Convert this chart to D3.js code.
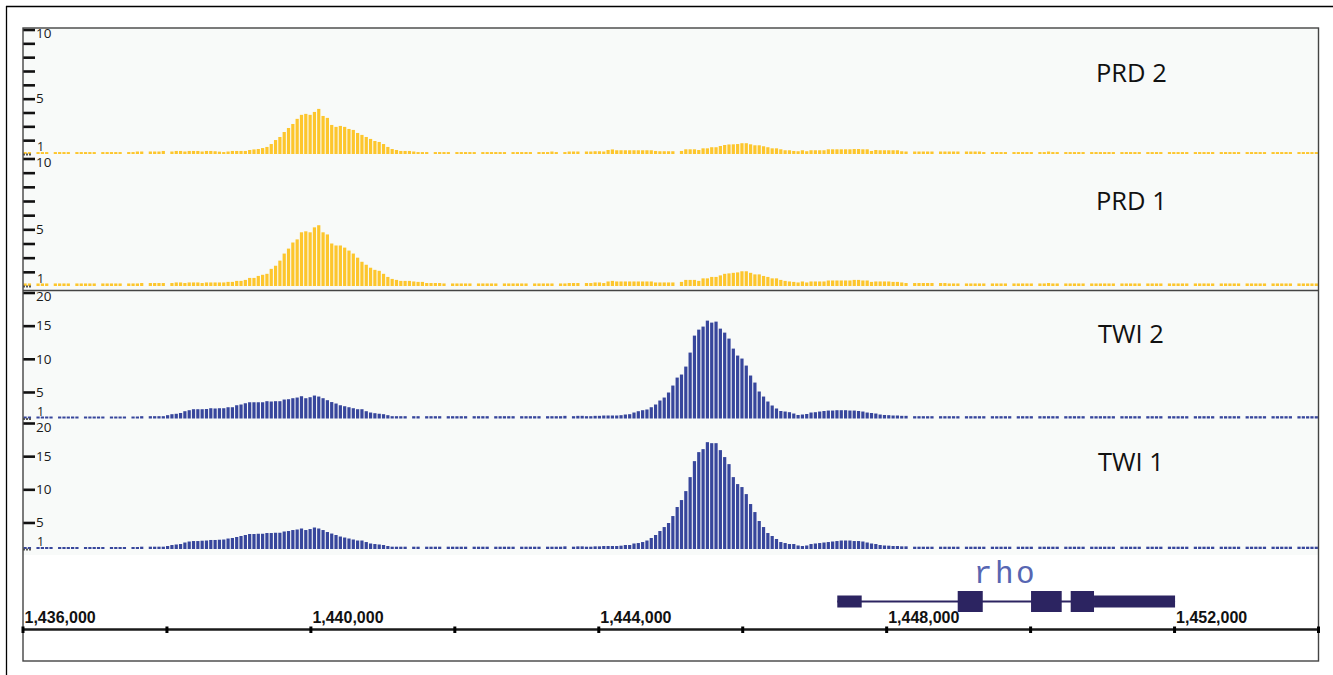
<!DOCTYPE html>
<html><head><meta charset="utf-8">
<script src="https://cdn.jsdelivr.net/npm/d3@7"></script>
<style>body{margin:0;background:#fff}svg{display:block}</style>
</head><body><svg id="c" width="1333" height="675"></svg>
<script>
const START = 1436000, END = 1454000, BIN = 60;
const trackNames = ["PRD 2", "PRD 1", "TWI 2", "TWI 1"];

const prd2 = [
1.14,1.14,1.00,1.14,1.14,1.14,1.00,1.14,1.14,1.14,
1.14,1.00,1.14,1.14,1.14,1.14,1.14,1.00,1.14,1.14,
1.14,1.14,1.14,1.00,1.14,1.14,1.18,1.18,1.00,1.18,
1.18,1.18,1.22,1.00,1.18,1.22,1.22,1.18,1.22,1.22,
1.22,1.18,1.22,1.22,1.20,1.17,1.14,1.18,1.22,1.22,
1.22,1.22,1.29,1.33,1.36,1.43,1.51,1.72,2.01,2.23,
2.59,2.88,3.17,3.54,3.83,3.90,3.83,4.04,4.26,3.75,
3.61,3.10,2.96,3.03,2.96,2.81,2.74,2.52,2.38,2.23,
2.09,1.94,1.87,1.72,1.51,1.36,1.29,1.22,1.22,1.22,
1.18,1.14,1.14,1.14,1.00,1.14,1.14,1.14,1.14,1.00,
1.14,1.14,1.14,1.14,1.14,1.00,1.14,1.14,1.14,1.14,
1.14,1.14,1.00,1.14,1.14,1.14,1.14,1.14,1.00,1.14,
1.14,1.14,1.18,1.14,1.00,1.14,1.18,1.18,1.18,1.00,
1.18,1.18,1.20,1.20,1.18,1.29,1.33,1.27,1.27,1.27,
1.27,1.27,1.27,1.27,1.27,1.27,1.22,1.20,1.20,1.20,
1.20,1.00,1.22,1.34,1.34,1.34,1.29,1.41,1.41,1.49,
1.49,1.58,1.65,1.69,1.70,1.72,1.78,1.78,1.70,1.63,
1.63,1.56,1.49,1.41,1.41,1.34,1.27,1.27,1.22,1.20,
1.27,1.20,1.27,1.27,1.27,1.27,1.34,1.34,1.34,1.34,
1.34,1.34,1.36,1.36,1.34,1.34,1.22,1.29,1.27,1.27,
1.27,1.27,1.27,1.20,1.18,1.00,1.18,1.18,1.18,1.18,
1.18,1.00,1.18,1.18,1.18,1.18,1.18,1.00,1.18,1.18,
1.18,1.18,1.14,1.00,1.14,1.14,1.14,1.14,1.00,1.14,
1.14,1.14,1.14,1.14,1.00,1.14,1.14,1.18,1.14,1.14,
1.00,1.14,1.14,1.14,1.14,1.14,1.00,1.14,1.14,1.14,
1.14,1.14,1.14,1.00,1.14,1.14,1.14,1.14,1.14,1.00,
1.14,1.14,1.14,1.14,1.00,1.14,1.14,1.14,1.14,1.14,
1.00,1.14,1.14,1.14,1.14,1.14,1.00,1.14,1.14,1.14,
1.14,1.14,1.00,1.14,1.14,1.14,1.14,1.14,1.00,1.14,
1.14,1.14,1.14,1.14,1.00,1.14,1.14,1.14,1.14,1.14];

const prd1 = [
1.18,1.18,1.00,1.18,1.18,1.18,1.00,1.18,1.18,1.18,
1.18,1.00,1.18,1.18,1.18,1.18,1.18,1.00,1.18,1.18,
1.18,1.18,1.18,1.00,1.18,1.18,1.18,1.21,1.00,1.21,
1.21,1.21,1.21,1.00,1.21,1.25,1.25,1.21,1.25,1.25,
1.25,1.21,1.25,1.25,1.25,1.25,1.25,1.29,1.29,1.36,
1.36,1.43,1.57,1.57,1.71,1.79,1.86,2.21,2.43,2.79,
3.29,3.64,4.07,4.29,4.79,4.86,4.79,5.14,5.29,4.79,
4.64,4.00,3.86,3.86,3.71,3.50,3.29,3.00,2.71,2.50,
2.29,2.14,2.07,1.86,1.64,1.50,1.43,1.36,1.36,1.36,
1.32,1.29,1.29,1.21,1.21,1.21,1.21,1.18,1.00,1.18,
1.18,1.18,1.18,1.18,1.00,1.18,1.18,1.18,1.18,1.18,
1.00,1.18,1.18,1.18,1.18,1.18,1.18,1.00,1.18,1.18,
1.18,1.18,1.18,1.00,1.18,1.18,1.21,1.21,1.21,1.00,
1.21,1.21,1.25,1.25,1.21,1.32,1.36,1.32,1.32,1.32,
1.32,1.32,1.32,1.32,1.32,1.32,1.25,1.25,1.25,1.25,
1.25,1.00,1.29,1.43,1.43,1.43,1.36,1.54,1.54,1.64,
1.64,1.75,1.86,1.89,1.93,1.96,2.04,2.04,1.93,1.82,
1.82,1.71,1.64,1.54,1.54,1.43,1.36,1.32,1.29,1.25,
1.32,1.25,1.32,1.32,1.32,1.32,1.39,1.39,1.39,1.39,
1.39,1.39,1.43,1.43,1.39,1.39,1.29,1.32,1.32,1.32,
1.32,1.29,1.29,1.25,1.21,1.00,1.21,1.21,1.21,1.21,
1.21,1.00,1.21,1.21,1.18,1.18,1.18,1.00,1.18,1.18,
1.18,1.18,1.18,1.00,1.18,1.18,1.18,1.18,1.00,1.18,
1.18,1.18,1.18,1.18,1.00,1.18,1.18,1.21,1.18,1.18,
1.00,1.18,1.18,1.18,1.18,1.18,1.00,1.18,1.18,1.18,
1.18,1.18,1.18,1.00,1.18,1.18,1.18,1.18,1.18,1.00,
1.18,1.18,1.18,1.18,1.00,1.18,1.18,1.18,1.18,1.18,
1.00,1.18,1.18,1.18,1.18,1.18,1.00,1.18,1.18,1.18,
1.18,1.18,1.00,1.18,1.18,1.18,1.18,1.18,1.00,1.18,
1.18,1.18,1.18,1.18,1.00,1.18,1.18,1.18,1.18,1.18];

const twi2 = [
1.30,1.30,1.00,1.30,1.30,1.30,1.30,1.00,1.30,1.30,
1.30,1.30,1.30,1.00,1.30,1.30,1.30,1.30,1.30,1.00,
1.30,1.30,1.30,1.30,1.00,1.30,1.30,1.35,1.00,1.35,
1.35,1.35,1.35,1.50,1.65,1.71,1.83,2.10,2.25,2.40,
2.40,2.40,2.43,2.55,2.51,2.55,2.55,2.70,2.70,3.00,
3.11,3.30,3.45,3.45,3.45,3.45,3.61,3.56,3.61,3.61,
3.86,3.91,4.06,4.16,4.36,4.06,4.21,4.46,4.31,4.06,
3.76,3.48,3.26,3.00,2.85,2.70,2.55,2.40,2.40,2.10,
1.90,1.80,1.72,1.65,1.50,1.35,1.35,1.35,1.35,1.00,
1.35,1.35,1.00,1.35,1.35,1.35,1.35,1.00,1.35,1.35,
1.35,1.35,1.35,1.00,1.35,1.35,1.35,1.35,1.00,1.35,
1.35,1.35,1.35,1.35,1.00,1.35,1.35,1.35,1.35,1.35,
1.00,1.35,1.35,1.35,1.35,1.40,1.00,1.35,1.40,1.40,
1.35,1.35,1.40,1.40,1.45,1.45,1.45,1.45,1.50,1.60,
1.65,1.90,2.10,2.25,2.36,2.70,3.11,3.71,4.16,4.92,
5.97,7.17,7.63,8.83,10.94,13.50,14.40,14.86,15.76,15.46,
15.61,14.55,13.95,13.05,11.54,10.49,10.04,8.98,7.48,6.42,
5.07,4.31,3.56,2.96,2.51,2.13,2.05,1.95,1.75,1.53,
1.60,1.68,1.90,1.95,2.05,2.13,2.20,2.20,2.25,2.25,
2.25,2.20,2.20,2.13,2.05,1.90,1.83,1.75,1.60,1.53,
1.50,1.45,1.45,1.40,1.40,1.00,1.35,1.35,1.35,1.35,
1.35,1.00,1.35,1.35,1.35,1.35,1.35,1.00,1.35,1.35,
1.35,1.35,1.35,1.00,1.35,1.35,1.35,1.35,1.35,1.00,
1.35,1.35,1.35,1.35,1.00,1.35,1.35,1.35,1.35,1.35,
1.00,1.35,1.35,1.35,1.35,1.35,1.00,1.35,1.35,1.35,
1.35,1.35,1.35,1.00,1.35,1.35,1.35,1.35,1.35,1.00,
1.35,1.35,1.35,1.35,1.00,1.35,1.35,1.35,1.35,1.35,
1.00,1.35,1.35,1.35,1.35,1.35,1.00,1.35,1.35,1.35,
1.35,1.35,1.00,1.35,1.35,1.35,1.35,1.35,1.00,1.35,
1.35,1.35,1.35,1.35,1.00,1.35,1.35,1.35,1.35,1.35];

const twi1 = [
1.30,1.30,1.00,1.30,1.30,1.30,1.30,1.00,1.30,1.30,
1.30,1.30,1.30,1.00,1.30,1.30,1.30,1.30,1.30,1.00,
1.30,1.30,1.30,1.30,1.00,1.30,1.30,1.35,1.00,1.35,
1.35,1.35,1.35,1.45,1.60,1.68,1.75,1.98,2.13,2.20,
2.20,2.25,2.28,2.36,2.36,2.40,2.43,2.58,2.66,2.81,
2.96,3.11,3.26,3.26,3.30,3.30,3.41,3.41,3.45,3.45,
3.64,3.71,3.86,3.94,4.09,3.86,4.01,4.24,4.09,3.86,
3.56,3.33,3.11,2.88,2.73,2.58,2.43,2.28,2.28,2.05,
1.83,1.75,1.68,1.60,1.45,1.35,1.35,1.35,1.35,1.00,
1.35,1.35,1.00,1.35,1.35,1.35,1.35,1.00,1.35,1.35,
1.35,1.35,1.35,1.00,1.35,1.35,1.35,1.35,1.00,1.35,
1.35,1.35,1.35,1.35,1.00,1.35,1.35,1.35,1.35,1.35,
1.00,1.35,1.35,1.35,1.35,1.40,1.00,1.35,1.40,1.40,
1.35,1.35,1.40,1.40,1.45,1.45,1.45,1.45,1.50,1.60,
1.60,1.83,1.90,2.05,2.28,2.66,3.11,3.71,4.31,4.92,
5.97,7.33,8.38,9.73,11.84,14.25,15.61,16.06,17.11,16.96,
16.96,15.91,14.86,13.80,11.84,10.79,10.34,9.28,7.78,6.57,
5.22,4.31,3.41,2.96,2.51,2.05,1.90,1.75,1.75,1.53,
1.45,1.53,1.75,1.83,1.90,1.98,2.05,2.13,2.20,2.28,
2.28,2.28,2.20,2.20,2.13,1.98,1.83,1.75,1.60,1.53,
1.50,1.45,1.45,1.40,1.40,1.00,1.35,1.35,1.35,1.35,
1.35,1.00,1.35,1.35,1.35,1.35,1.35,1.00,1.35,1.35,
1.35,1.35,1.35,1.00,1.35,1.35,1.35,1.35,1.35,1.00,
1.35,1.35,1.35,1.35,1.00,1.35,1.35,1.35,1.35,1.35,
1.00,1.35,1.35,1.35,1.35,1.35,1.00,1.35,1.35,1.35,
1.35,1.35,1.35,1.00,1.35,1.35,1.35,1.35,1.35,1.00,
1.35,1.35,1.35,1.35,1.00,1.35,1.35,1.35,1.35,1.35,
1.00,1.35,1.35,1.35,1.35,1.35,1.00,1.35,1.35,1.35,
1.35,1.35,1.00,1.35,1.35,1.35,1.35,1.35,1.00,1.35,
1.35,1.35,1.35,1.35,1.00,1.35,1.35,1.35,1.35,1.35];

const prdTicks = [1,2,3,4,5,6,7,8,9,10];
const prdTickLabels = [10,5,1];
const twiTicks = [1,5,10,15,20];
const twiTickLabels = [20,15,10,5,1];
const posTicks = [1436000,1438000,1440000,1442000,1444000,1446000,1448000,1450000,1452000,1454000];
const posTickLabels = [1436000,1440000,1444000,1448000,1452000];

const geneName = "rho";
const exonStarts = [1447314,1448987,1450006,1450557,1450881];
const exonEnds   = [1447653,1449335,1450432,1450881,1452007];
const exonCoding = [false,true,true,true,false];

// ---------- layout ----------
const W = 1333, H = 675;
const L = 23, R = 1318.5, T = 28, B = 661;
const YELLOW = "#fdc62d", BLUE = "#37469c", NAVY = "#2c2461";

const tracks = [
  {name: trackNames[0], values: prd2, color: YELLOW, max: 10, base: 154, top: 29.5, ticks: prdTicks, labels: prdTickLabels, labelX: 1096, labelY: 81.5},
  {name: trackNames[1], values: prd1, color: YELLOW, max: 10, base: 286, top: 158.5, ticks: prdTicks, labels: prdTickLabels, labelX: 1096, labelY: 209.5},
  {name: trackNames[2], values: twi2, color: BLUE, max: 20, base: 418.5, top: 292.5, ticks: twiTicks, labels: twiTickLabels, labelX: 1098, labelY: 342.5},
  {name: trackNames[3], values: twi1, color: BLUE, max: 20, base: 549, top: 423, ticks: twiTicks, labels: twiTickLabels, labelX: 1098, labelY: 470.5}
];

const svg = d3.select("#c");
svg.append("rect").attr("width", W).attr("height", H).attr("fill", "#fff");

// outer frame lines
svg.append("line").attr("x1", 6.5).attr("x2", 6.5).attr("y1", 6).attr("y2", H).attr("stroke", "#000").attr("stroke-width", 1.3);
svg.append("line").attr("x1", 6).attr("x2", W).attr("y1", 6.5).attr("y2", 6.5).attr("stroke", "#000").attr("stroke-width", 1.3);

// track background
svg.append("rect").attr("x", L).attr("y", T).attr("width", R - L).attr("height", 555 - T).attr("fill", "#f8faf9");

const x = d3.scaleLinear().domain([START, END]).range([L, R]);
const binW = x(START + BIN) - x(START);

svg.append("clipPath").attr("id", "clip").append("rect")
  .attr("x", L).attr("y", T).attr("width", R - L).attr("height", B - T);

tracks.forEach(t => {
  const y = d3.scaleLinear().domain([1, t.max]).range([t.base, t.top]);
  const g = svg.append("g").attr("clip-path", "url(#clip)");
  g.selectAll("rect").data(t.values.map((v, i) => ({v, i})).filter(d => d.v > 1))
    .join("rect")
    .attr("x", d => x(START + d.i * BIN) + 0.5)
    .attr("width", Math.max(1, binW - 1.1))
    .attr("y", d => y(d.v))
    .attr("height", d => y(1) - y(d.v))
    .attr("fill", t.color);

  const ax = d3.axisRight(y).tickValues(t.ticks).tickSize(12).tickPadding(1)
    .tickFormat(d => t.labels.includes(d) ? String(d) : "");
  const ag = svg.append("g").attr("transform", `translate(${L},0)`).call(ax);
  ag.select(".domain").remove();
  ag.selectAll(".tick line").attr("stroke", "#111").attr("stroke-width", 2.6);
  ag.selectAll(".tick text").attr("fill", "#1a1a1a").attr("font-size", 13.5)
    .attr("font-family", "'Open Sans', 'Noto Sans', sans-serif");
  ag.selectAll(".tick").filter(d => d === 1).select("line").attr("x2", 8).attr("stroke", "#555").attr("stroke-width", 2).attr("stroke-dasharray", "2,1");
  ag.selectAll(".tick").filter(d => d === 1).select("text").attr("x", 14).attr("dy", "-0.25em").attr("font-size", 12.5);
  ag.selectAll(".tick").filter(d => d === t.max).select("text").attr("dy", "0.62em");

  svg.append("text").attr("x", t.labelX).attr("y", t.labelY).text(t.name)
    .attr("font-family", "'Open Sans', 'Noto Sans', sans-serif").attr("font-size", 25.5).attr("fill", "#111");
});

// divider between PRD and TWI groups
svg.append("line").attr("x1", L).attr("x2", R).attr("y1", 290.5).attr("y2", 290.5).attr("stroke", "#444").attr("stroke-width", 1.3);

// inner frame
svg.append("rect").attr("x", L).attr("y", T).attr("width", R - L).attr("height", B - T)
  .attr("fill", "none").attr("stroke", "#444").attr("stroke-width", 1.4);

// gene model
const geneY = 601.5;
svg.append("line").attr("x1", x(d3.min(exonStarts))).attr("x2", x(d3.max(exonEnds)))
  .attr("y1", geneY).attr("y2", geneY).attr("stroke", NAVY).attr("stroke-width", 2);
svg.selectAll("rect.exon").data(exonStarts.map((s, i) => ({s, e: exonEnds[i], c: exonCoding[i]})))
  .join("rect").attr("class", "exon")
  .attr("x", d => x(d.s)).attr("width", d => x(d.e) - x(d.s))
  .attr("y", d => d.c ? geneY - 10.5 : geneY - 6)
  .attr("height", d => d.c ? 21 : 12)
  .attr("fill", NAVY);
svg.append("text").attr("x", 1005.5).attr("y", 582.5).attr("text-anchor", "middle")
  .text(geneName).attr("font-family", "'Liberation Mono', 'DejaVu Sans Mono', monospace")
  .attr("font-size", 31).attr("letter-spacing", 2.5).attr("fill", "#5766b2");

// position axis
const axY = 629.5;
svg.append("line").attr("x1", L).attr("x2", R).attr("y1", axY).attr("y2", axY).attr("stroke", "#1a1a1a").attr("stroke-width", 2.6);
svg.selectAll("rect.ptick").data(posTicks).join("rect").attr("class", "ptick")
  .attr("x", d => x(d) - 1.5).attr("width", 3).attr("y", axY - 3).attr("height", 6.5).attr("fill", "#000");
svg.selectAll("text.plabel").data(posTickLabels).join("text").attr("class", "plabel")
  .attr("x", d => x(d) + 1.5).attr("y", 623)
  .text(d => d3.format(",")(d))
  .attr("font-family", "'Liberation Sans', Arial, sans-serif").attr("font-weight", "bold")
  .attr("font-size", 16).attr("fill", "#111");
</script>
</body></html>
